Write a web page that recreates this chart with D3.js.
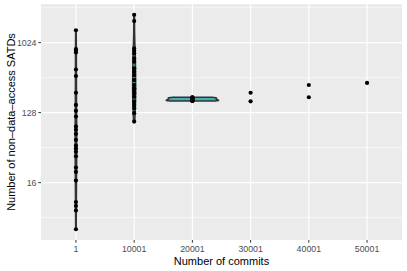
<!DOCTYPE html>
<html>
<head>
<meta charset="utf-8">
<script src="https://cdn.jsdelivr.net/npm/d3@7"></script>
<style>
  body { margin: 0; background: #fff; }
  svg { display: block; font-family: "Liberation Sans", Arial, sans-serif; }
</style>
</head>
<body>
<svg id="chart" width="407" height="271"></svg>
<script>
// categories on the x axis (discrete)
var commitLevels = ["1", "10001", "20001", "30001", "40001", "50001"];

// number of non-data-access SATDs per level
var satd_1 = [1480, 845, 803, 766, 461, 380, 231, 161, 135, 114, 85, 77, 68, 57, 48, 44, 40, 35, 25, 22, 17, 9, 8, 7, 4];
var satd_10001 = [2346, 1940, 862, 803, 744, 640, 580, 477, 431, 391, 337, 291, 264, 251, 228, 205, 177, 161, 146, 126, 98];
var satd_20001 = [181, 181, 182, 185, 188, 190, 193, 196, 199, 201, 202];
var satd_30001 = [231, 179];
var satd_40001 = [291, 202];
var satd_50001 = [309];

var yTicks = [16, 128, 1024];

var groups = [satd_1, satd_10001, satd_20001, satd_30001, satd_40001, satd_50001];

var svg = d3.select("#chart");
var margin = {left: 41, right: 5, top: 4, bottom: 31};
var W = 407, H = 271;
var pw = W - margin.left - margin.right;
var ph = H - margin.top - margin.bottom;

// y: log2 with 5% expansion like ggplot
var all = [].concat.apply([], groups);
var lmin = Math.log2(d3.min(all)), lmax = Math.log2(d3.max(all));
var pad = (lmax - lmin) * 0.05;
var y = d3.scaleLog().base(2)
  .domain([Math.pow(2, lmin - pad), Math.pow(2, lmax + pad)])
  .range([margin.top + ph, margin.top]);

var x = d3.scalePoint().domain(commitLevels)
  .range([margin.left, margin.left + pw]).padding(0.6);
var step = x.step();

// panel background
svg.append("rect").attr("x", margin.left).attr("y", margin.top)
  .attr("width", pw).attr("height", ph).attr("fill", "#EBEBEB");

// minor gridlines (midpoints in log space)
var lt = yTicks.map(function(t){ return Math.log2(t); });
var minor = [];
for (var i = -1; i < lt.length; i++) {
  var a = i < 0 ? lt[0] - 3 : lt[i];
  minor.push(Math.pow(2, a + 1.5));
}
minor.forEach(function(m){
  var yy = y(m);
  if (yy < margin.top || yy > margin.top + ph) return;
  svg.append("line").attr("x1", margin.left).attr("x2", margin.left + pw)
    .attr("y1", yy).attr("y2", yy)
    .attr("stroke", "#fff").attr("stroke-width", 0.55);
});
yTicks.forEach(function(t){
  svg.append("line").attr("x1", margin.left).attr("x2", margin.left + pw)
    .attr("y1", y(t)).attr("y2", y(t))
    .attr("stroke", "#fff").attr("stroke-width", 1.1);
});
commitLevels.forEach(function(c){
  svg.append("line").attr("x1", x(c)).attr("x2", x(c))
    .attr("y1", margin.top).attr("y2", margin.top + ph)
    .attr("stroke", "#fff").attr("stroke-width", 1.1);
});

// kernel density (gaussian, bw.nrd0) on log2 values
function quantile7(s, p) {
  var h = (s.length - 1) * p, lo = Math.floor(h);
  return s[lo] + (h - lo) * ((s[Math.min(lo + 1, s.length - 1)]) - s[lo]);
}
function density(vals) {
  var lv = vals.map(function(v){ return Math.log2(v); }).sort(d3.ascending);
  var n = lv.length;
  var sd = d3.deviation(lv);
  var iqr = quantile7(lv, 0.75) - quantile7(lv, 0.25);
  var lo = Math.min(sd, iqr / 1.34);
  if (!(lo > 0)) lo = sd || Math.abs(lv[0]) || 1;
  var bw = 0.9 * lo * Math.pow(n, -0.2);
  var out = [];
  var m = 128;
  for (var k = 0; k <= m; k++) {
    var t = lv[0] + (lv[n - 1] - lv[0]) * k / m;
    var s = 0;
    for (var j = 0; j < n; j++) {
      var u = (t - lv[j]) / bw;
      s += Math.exp(-0.5 * u * u);
    }
    out.push({t: t, d: s / (n * bw * Math.sqrt(2 * Math.PI))});
  }
  return out;
}

var dens = groups.map(function(g){ return g.length >= 3 ? density(g) : null; });
var dmax = d3.max(dens.filter(Boolean), function(ds){ return d3.max(ds, function(p){ return p.d; }); });
var wScale = d3.scaleLinear().domain([0, dmax]).range([0, step * 0.9 / 2]);

var line = d3.line().x(function(p){ return p[0]; }).y(function(p){ return p[1]; });
dens.forEach(function(ds, gi){
  if (!ds) return;
  var cx = x(commitLevels[gi]);
  var pts = [];
  ds.forEach(function(p){ pts.push([cx - wScale(p.d), y(Math.pow(2, p.t))]); });
  ds.slice().reverse().forEach(function(p){ pts.push([cx + wScale(p.d), y(Math.pow(2, p.t))]); });
  svg.append("path").attr("d", line(pts) + "Z")
    .attr("fill", "#3fb0b8").attr("stroke", "#333").attr("stroke-width", 1.5)
    .attr("stroke-linejoin", "round");
});

// points
groups.forEach(function(g, gi){
  svg.selectAll(null).data(g).enter().append("circle")
    .attr("cx", x(commitLevels[gi])).attr("cy", function(d){ return y(d); })
    .attr("r", 2.1).attr("fill", "#000");
});

// axes ticks + labels
yTicks.forEach(function(t){
  svg.append("line").attr("x1", margin.left - 2.7).attr("x2", margin.left)
    .attr("y1", y(t)).attr("y2", y(t)).attr("stroke", "#333").attr("stroke-width", 1);
  svg.append("text").attr("x", margin.left - 4.5).attr("y", y(t) + 3.1)
    .attr("text-anchor", "end").attr("font-size", "8.8px").attr("fill", "#4D4D4D").text(t);
});
commitLevels.forEach(function(c){
  svg.append("line").attr("x1", x(c)).attr("x2", x(c))
    .attr("y1", margin.top + ph).attr("y2", margin.top + ph + 2.7)
    .attr("stroke", "#333").attr("stroke-width", 1);
  svg.append("text").attr("x", x(c)).attr("y", margin.top + ph + 11.6)
    .attr("text-anchor", "middle").attr("font-size", "8.8px").attr("fill", "#4D4D4D").text(c);
});

svg.append("text").attr("x", margin.left + pw / 2).attr("y", 265)
  .attr("text-anchor", "middle").attr("font-size", "11px").attr("fill", "#000")
  .text("Number of commits");
svg.append("text").attr("transform", "translate(15," + (margin.top + ph / 2) + ") rotate(-90)")
  .attr("text-anchor", "middle").attr("font-size", "11px").attr("fill", "#000")
  .text("Number of non–data–access SATDs");
</script>
</body>
</html>
